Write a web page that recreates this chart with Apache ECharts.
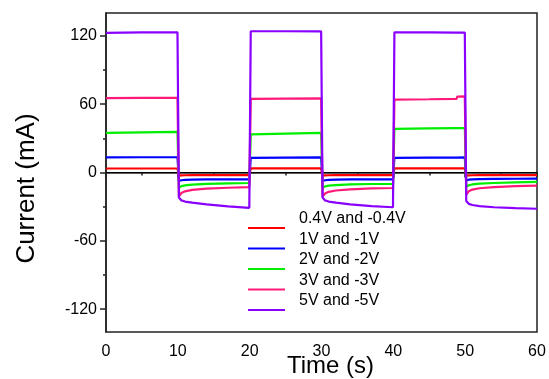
<!DOCTYPE html>
<html>
<head>
<meta charset="utf-8">
<script src="https://cdn.jsdelivr.net/npm/echarts@6/dist/echarts.min.js"></script>
<style>html,body{margin:0;padding:0;background:#fff}#c{width:549px;height:379px}</style>
</head>
<body>
<div id="c"></div>
<script>
// time samples (s)
const times = [
  0, 5, 9.95,
  10.15, 10.5, 11, 12, 14, 17, 19.95,
  20.15, 25, 29.95,
  30.15, 30.5, 31, 32, 34, 37, 39.95,
  40.15, 45, 48.8, 48.9, 49.95,
  50.15, 50.5, 51, 52, 54, 57, 60
];
const v04 = [
  3.5, 3.5, 3.5,
  -2.8, -2.5, -2.4, -2.3, -2.3, -2.3, -2.3,
  3.6, 3.6, 3.6,
  -2.8, -2.5, -2.4, -2.3, -2.3, -2.3, -2.3,
  3.6, 3.6, 3.6, 3.6, 3.6,
  -2.8, -2.5, -2.4, -2.3, -2.3, -2.3, -2.3
];
const v1 = [
  13.2, 13.4, 13.4,
  -7.5, -6.8, -6.5, -6.3, -6.1, -6.0, -6.0,
  12.8, 13.1, 13.2,
  -7.5, -6.8, -6.5, -6.3, -6.1, -6.0, -6.0,
  12.8, 13.0, 13.1, 13.1, 13.2,
  -7.0, -6.3, -6.0, -5.8, -5.6, -5.5, -5.4
];
const v2 = [
  34.8, 35.3, 35.6,
  -13.5, -12.0, -11.3, -10.6, -10.0, -9.5, -9.2,
  33.5, 34.2, 34.8,
  -13.5, -12.2, -11.5, -11.0, -10.5, -10.1, -9.9,
  38.3, 38.8, 39.0, 39.0, 39.0,
  -12.5, -11.2, -10.5, -9.8, -9.2, -8.6, -8.2
];
const v3 = [
  65.2, 65.5, 65.6,
  -21, -18, -16.5, -15.2, -14.2, -13.4, -12.8,
  64.6, 64.9, 65.0,
  -21, -18.5, -17, -15.8, -14.8, -14.0, -13.6,
  64.0, 64.3, 64.6, 66.6, 66.8,
  -19.5, -16.5, -15, -13.8, -12.8, -12.0, -11.5
];
const v5 = [
  122.5, 123, 123,
  -22, -24.5, -25.5, -26.5, -28, -29.8, -31,
  124, 124, 123.8,
  -22, -24.5, -25.5, -26.5, -28, -29.5, -30.5,
  123, 123, 122.8, 122.8, 122.8,
  -25, -27.5, -28.5, -29.5, -30.5, -31.3, -31.8
];
const seriesNames = ['0.4V and -0.4V', '1V and -1V', '2V and -2V', '3V and -3V', '5V and -5V'];
const seriesValues = [v04, v1, v2, v3, v5];
const colors = ['#ff0000', '#0000ff', '#00ee00', '#ff1a7a', '#8a00ff'];
const zeroLine = [[0, 0], [60, 0]];
const yTickLabels = [-120, -60, 0, 60, 120];
const yMinorTicks = [-90, -30, 30, 90];

const FONT = 'Liberation Sans, Arial, sans-serif';
const chart = echarts.init(document.getElementById('c'));
const series = [{
  type: 'line', data: zeroLine, symbol: 'none', silent: true,
  lineStyle: { color: '#000', width: 1 }, z: 1
}];
seriesNames.forEach((n, i) => {
  series.push({
    name: n, type: 'line', symbol: 'none', showSymbol: false,
    data: times.map((t, k) => [t, seriesValues[i][k]]),
    lineStyle: { color: colors[i], width: 2.2 }, itemStyle: { color: colors[i] },
    z: 2 + i
  });
});

const legendText = { fontFamily: FONT, fontSize: 16, lineHeight: 20 };
chart.setOption({
  animation: false,
  grid: { left: 106, right: 12, top: 13, bottom: 47, show: true, borderColor: '#222', borderWidth: 1.5,
          containLabel: false, outerBoundsMode: 'none' },
  legend: [{
    orient: 'vertical', left: 248, top: 218, padding: 0,
    icon: 'rect', itemWidth: 37, itemHeight: 2, itemGap: 0.5,
    data: seriesNames, selectedMode: false,
    textStyle: Object.assign({ color: 'rgba(0,0,0,0)' }, legendText)
  }, {
    orient: 'vertical', left: 294, top: 209, padding: 0,
    icon: 'rect', itemWidth: 0, itemHeight: 2, itemGap: 0.5,
    data: seriesNames, selectedMode: false,
    textStyle: Object.assign({ color: '#000' }, legendText)
  }],
  xAxis: {
    type: 'value', min: 0, max: 60, interval: 10,
    name: 'Time (s)', nameLocation: 'middle', nameGap: 22, nameMoveOverlap: false,
    nameTextStyle: { fontFamily: FONT, fontSize: 24, color: '#000', padding: [0, 0, 0, 18] },
    axisLine: { show: true, lineStyle: { color: '#222', width: 1.5 } },
    axisTick: { show: true, inside: false, length: 5, lineStyle: { color: '#222', width: 1.5 } },
    minorTick: { show: true, splitNumber: 2, length: 3, lineStyle: { color: '#222', width: 1.5 } },
    axisLabel: { fontFamily: FONT, fontSize: 16, color: '#000', margin: 12 },
    splitLine: { show: false }
  },
  yAxis: [{
    type: 'value', min: -140, max: 140,
    name: 'Current (mA)', nameLocation: 'middle', nameGap: 66, nameMoveOverlap: false,
    nameTextStyle: { fontFamily: FONT, fontSize: 26, color: '#000', padding: [0, 32, 0, 0] },
    axisLine: { show: true, lineStyle: { color: '#222', width: 1.5 } },
    axisTick: { show: true, inside: false, length: 6, customValues: yTickLabels, lineStyle: { color: '#222', width: 1.5 } },
    axisLabel: { fontFamily: FONT, fontSize: 16, color: '#000', margin: 9, customValues: yTickLabels },
    splitLine: { show: false }
  }, {
    type: 'value', min: -140, max: 140, position: 'left',
    axisLine: { show: false },
    axisTick: { show: true, inside: false, length: 3, customValues: yMinorTicks, lineStyle: { color: '#222', width: 1.5 } },
    axisLabel: { show: false },
    splitLine: { show: false }
  }],
  series: series
});
</script>
</body>
</html>
